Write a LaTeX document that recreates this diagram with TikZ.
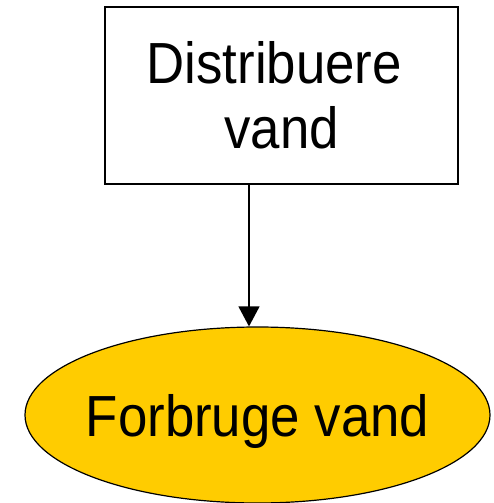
\documentclass[tikz,border=0pt]{standalone}
\usepackage{xcolor}
\usepackage{fontspec}
\setmainfont{Liberation Sans}[FakeStretch=0.91]
\usetikzlibrary{arrows.meta}
\usetikzlibrary{shapes.geometric}
\usetikzlibrary{positioning, calc}
\definecolor{forbrugyellow}{HTML}{FFCC00}
\tikzset{
  proces/.style={draw,line width=1.2pt,rectangle,inner sep=0pt,
    minimum width=353pt,minimum height=177pt,align=center,
    font=\fontsize{58}{65}\selectfont},
  forbrug/.style={draw,line width=1.2pt,ellipse,fill=forbrugyellow,
    inner xsep=-8pt,inner ysep=0pt,
    minimum width=465pt,minimum height=176pt,text depth=0pt,
    font=\fontsize{58}{65}\selectfont},
  pil/.style={line width=1.3pt,-{Triangle[width=21pt,length=20pt]}}
}
\begin{document}
\begin{tikzpicture}[x=1pt,y=1pt]
              \useasboundingbox (0,0) rectangle (493,-503);
              \node[proces] (distribuere) at (281.5,-95.5) {Distribuere\ \mbox{}\\vand};
              \node[forbrug] (forbruge) at (257.5,-415) {Forbruge vand};

              \draw[pil] ([xshift=-32.5pt]distribuere.south) -- ([xshift=-8.5pt]forbruge.north);
            \end{tikzpicture}
\end{document}
